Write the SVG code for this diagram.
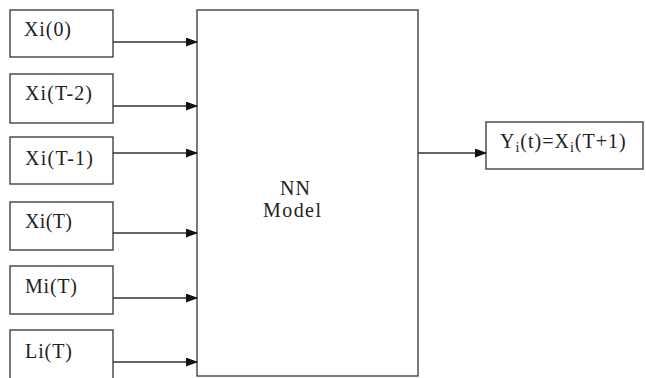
<svg xmlns="http://www.w3.org/2000/svg" width="646" height="378" viewBox="0 0 646 378">
<style>
.box{fill:#fff;stroke:#333;stroke-width:1.3}
.t{font-family:"Liberation Serif","Times New Roman","DejaVu Serif",serif;font-size:20px;fill:#222}
.c{stroke:#333;stroke-width:1.3;fill:none}
</style>
<defs>
<marker id="ah" markerWidth="12" markerHeight="9" refX="11" refY="4.5" orient="auto" markerUnits="userSpaceOnUse">
<path d="M0,0 L12,4.5 L0,9 Z" fill="#111"/>
</marker>
</defs>
<rect width="646" height="378" fill="#fff"/>
<g id="n1"><rect class="box" x="10" y="10" width="103" height="47"/><text class="t" x="24" y="36" textLength="47" lengthAdjust="spacing">Xi(0)</text></g>
<g id="n2"><rect class="box" x="10" y="74" width="103" height="49"/><text class="t" x="25" y="100" textLength="67" lengthAdjust="spacing">Xi(T-2)</text></g>
<g id="n3"><rect class="box" x="10" y="137" width="103" height="47"/><text class="t" x="25" y="165" textLength="68" lengthAdjust="spacing">Xi(T-1)</text></g>
<g id="n4"><rect class="box" x="10" y="202" width="103" height="48"/><text class="t" x="25" y="228" textLength="47" lengthAdjust="spacing">Xi(T)</text></g>
<g id="n5"><rect class="box" x="10" y="266" width="103" height="48"/><text class="t" x="25" y="293" textLength="52" lengthAdjust="spacing">Mi(T)</text></g>
<g id="n6"><rect class="box" x="10" y="330" width="103" height="52"/><text class="t" x="25" y="358" textLength="47" lengthAdjust="spacing">Li(T)</text></g>
<g id="nn"><rect class="box" x="197" y="10" width="221" height="366"/><text class="t" x="280" y="195" letter-spacing="1">NN</text><text class="t" x="263" y="217" textLength="58" lengthAdjust="spacing">Model</text></g>
<g id="out"><rect class="box" x="486" y="122" width="157" height="47"/><text class="t" x="500" y="148" letter-spacing="1">Y<tspan font-size="14" dy="4">i</tspan><tspan dy="-4">(t)=X</tspan><tspan font-size="14" dy="4">i</tspan><tspan dy="-4">(T+1)</tspan></text></g>
<g id="connectors">
<line class="c" x1="113" y1="42" x2="197" y2="42" marker-end="url(#ah)"/>
<line class="c" x1="113" y1="106" x2="197" y2="106" marker-end="url(#ah)"/>
<line class="c" x1="113" y1="153" x2="197" y2="153" marker-end="url(#ah)"/>
<line class="c" x1="113" y1="233" x2="197" y2="233" marker-end="url(#ah)"/>
<line class="c" x1="113" y1="298" x2="197" y2="298" marker-end="url(#ah)"/>
<line class="c" x1="113" y1="362" x2="197" y2="362" marker-end="url(#ah)"/>
<line class="c" x1="418" y1="153" x2="486" y2="153" marker-end="url(#ah)"/>
</g>
</svg>
